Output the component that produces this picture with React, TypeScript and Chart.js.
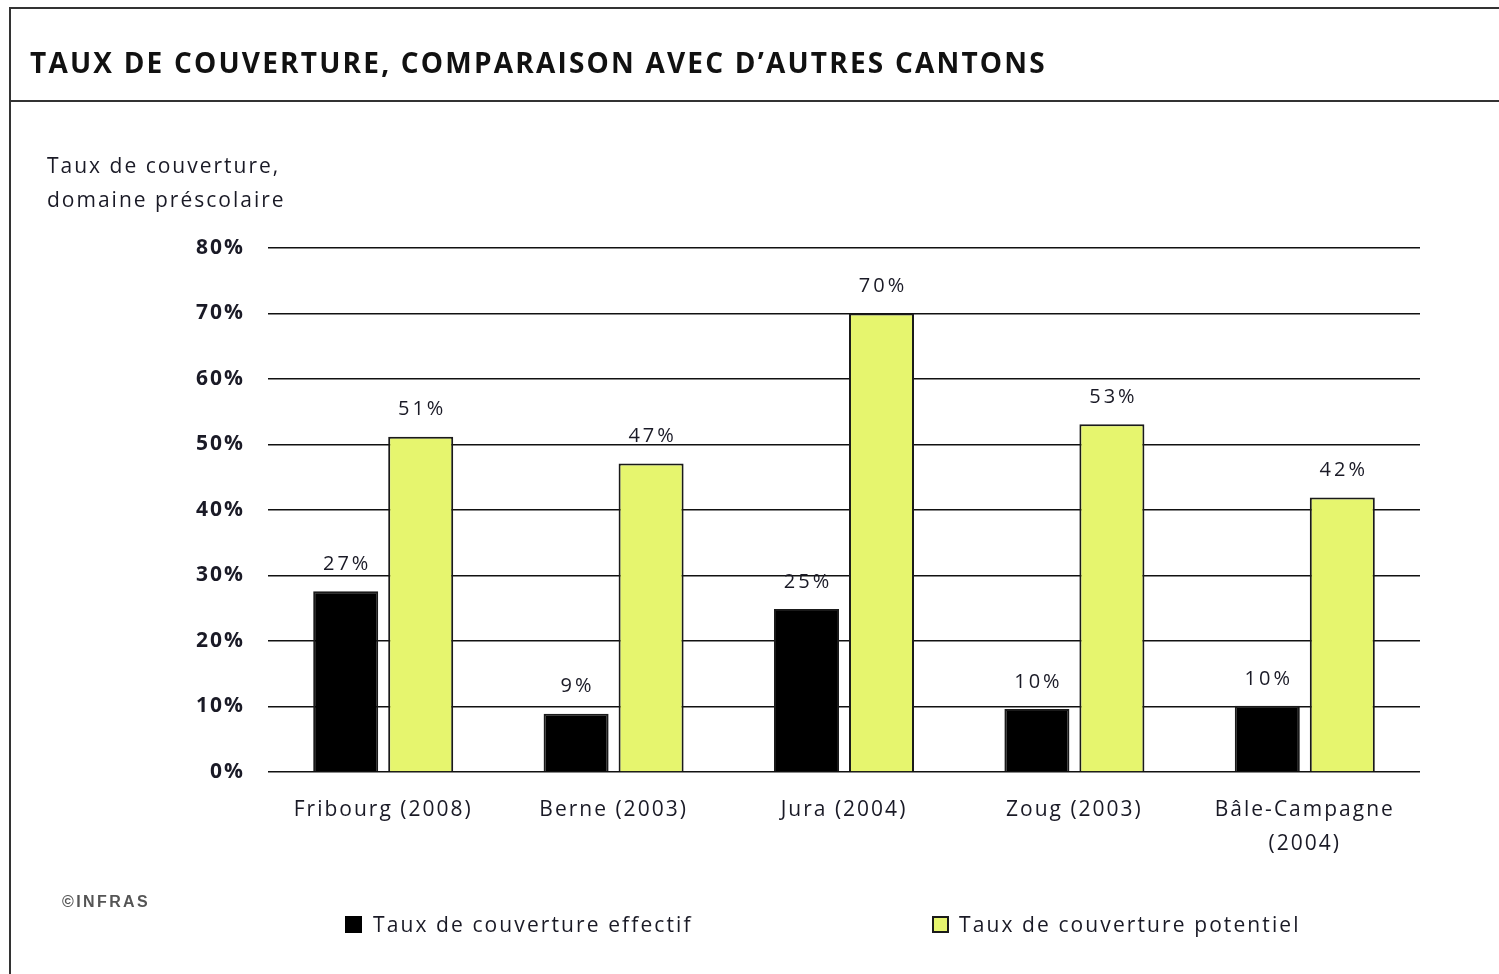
import React, { useEffect, useRef } from "react";
import { Chart, registerables } from "chart.js";

Chart.register(...registerables);

const categories: (string | string[])[] = [
  "Fribourg (2008)",
  "Berne (2003)",
  "Jura (2004)",
  "Zoug (2003)",
  ["Bâle-Campagne", "(2004)"],
];
const effectifValues = [27.6, 8.9, 24.9, 9.6, 10.1];
const effectifLabels = ["27%", "9%", "25%", "10%", "10%"];
const potentielValues = [51.2, 47.1, 70, 53.1, 41.9];
const potentielLabels = ["51%", "47%", "70%", "53%", "42%"];
const yTicks = [0, 10, 20, 30, 40, 50, 60, 70, 80];

const FONT = "'Open Sans', 'DejaVu Sans', sans-serif";
const TEXT = "#1a1a26";

export default function App() {
  const ref = useRef<HTMLCanvasElement | null>(null);

  useEffect(() => {
    if (!ref.current) return;
    const spacing = {
      id: "spacing",
      beforeInit(chart: any) {
        chart.ctx.letterSpacing = "2px";
      },
      beforeLayout(chart: any) {
        chart.ctx.letterSpacing = "2px";
      },
      beforeDraw(chart: any) {
        chart.ctx.letterSpacing = "2px";
      },
    };
    const valueLabels = {
      id: "valueLabels",
      afterDatasetsDraw(chart: any) {
        const ctx = chart.ctx;
        ctx.save();
        ctx.letterSpacing = "3px";
        ctx.font = `500 20px ${FONT}`;
        ctx.fillStyle = TEXT;
        ctx.textAlign = "center";
        ctx.textBaseline = "middle";
        const lists = [effectifLabels, potentielLabels];
        chart.data.datasets.forEach((_: any, di: number) => {
          const meta = chart.getDatasetMeta(di);
          meta.data.forEach((bar: any, i: number) => {
            ctx.fillText(lists[di][i], bar.x + 1.5, bar.y - 27);
          });
        });
        ctx.restore();
      },
    };
    const chart = new Chart(ref.current, {
      type: "bar",
      data: {
        labels: categories,
        datasets: [
          {
            label: "Taux de couverture effectif",
            data: effectifValues,
            backgroundColor: "#000000",
            borderColor: "#1a1a1a",
            borderWidth: 2,
            categoryPercentage: 0.651,
            barPercentage: 0.867,
          },
          {
            label: "Taux de couverture potentiel",
            data: potentielValues,
            backgroundColor: "#e6f56e",
            borderColor: "#1a1a1a",
            borderWidth: 2,
            categoryPercentage: 0.651,
            barPercentage: 0.867,
          },
        ],
      },
      options: {
        animation: false,
        responsive: false,
        maintainAspectRatio: false,
        layout: { padding: { left: 168, right: 79, top: 248, bottom: 0 } },
        plugins: {
          legend: { display: false },
          title: { display: false },
          tooltip: { enabled: false },
        },
        scales: {
          x: {
            grid: { display: false, drawTicks: false },
            border: { display: false },
            ticks: {
              color: TEXT,
              font: { family: FONT, size: 21, weight: "500", lineHeight: 1.62 },
              padding: 21,
              maxRotation: 0,
              autoSkip: false,
            },
            afterFit(scale: any) {
              scale.height = 202;
            },
          },
          y: {
            min: 0,
            max: 80,
            afterBuildTicks(scale: any) {
              scale.ticks = yTicks.map((v) => ({ value: v }));
            },
            grid: { color: "#111111", lineWidth: 1.5, drawTicks: false },
            border: { display: false },
            ticks: {
              color: TEXT,
              font: { family: FONT, size: 21, weight: "bold" },
              padding: 23,
              callback: (v: any) => `${v}%`,
            },
            afterFit(scale: any) {
              scale.width = 100;
            },
          },
        },
      },
      plugins: [spacing, valueLabels],
    } as any);
    return () => chart.destroy();
  }, []);

  const line = (style: React.CSSProperties) => (
    <div style={{ position: "absolute", background: "#333", ...style }} />
  );

  return (
    <div
      style={{
        position: "absolute",
        left: 0,
        top: 0,
        width: 1499,
        height: 974,
        overflow: "hidden",
        background: "#fff",
        fontFamily: FONT,
        color: TEXT,
      }}
    >
      <canvas
        ref={ref}
        width={1499}
        height={974}
        style={{ position: "absolute", left: 0, top: 0, width: 1499, height: 974 }}
      />
      {line({ left: 10, top: 7, width: 1489, height: 2 })}
      {line({ left: 9, top: 7, width: 2, height: 967 })}
      {line({ left: 10, top: 100, width: 1489, height: 2 })}
      <div
        style={{
          position: "absolute",
          left: 30,
          top: 42,
          fontSize: 28,
          fontWeight: 700,
          letterSpacing: 2.2,
          lineHeight: "40px",
          whiteSpace: "nowrap",
          color: "#111",
        }}
      >
        TAUX DE COUVERTURE, COMPARAISON AVEC D’AUTRES CANTONS
      </div>
      <div
        style={{
          position: "absolute",
          left: 47,
          top: 148,
          fontSize: 21,
          fontWeight: 500,
          letterSpacing: 2,
          lineHeight: "34px",
          whiteSpace: "nowrap",
        }}
      >
        Taux de couverture,
        <br />
        domaine préscolaire
      </div>
      <div
        style={{
          position: "absolute",
          left: 62,
          top: 893,
          fontSize: 16,
          fontWeight: 600,
          letterSpacing: 2.4,
          fontFamily: "'Liberation Sans', Arial, sans-serif",
          color: "#555",
          whiteSpace: "nowrap",
        }}
      >
        ©INFRAS
      </div>
      <div
        style={{
          position: "absolute",
          left: 345,
          top: 910,
          display: "flex",
          alignItems: "center",
          fontSize: 21,
          fontWeight: 500,
          letterSpacing: 2.1,
          whiteSpace: "nowrap",
        }}
      >
        <span style={{ width: 17, height: 17, background: "#000", marginRight: 11, display: "inline-block" }} />
        Taux de couverture effectif
      </div>
      <div
        style={{
          position: "absolute",
          left: 932,
          top: 910,
          display: "flex",
          alignItems: "center",
          fontSize: 21,
          fontWeight: 500,
          letterSpacing: 2.1,
          whiteSpace: "nowrap",
        }}
      >
        <span
          style={{
            width: 13,
            height: 13,
            background: "#e6f56e",
            border: "2px solid #1a1a1a",
            marginRight: 10,
            display: "inline-block",
          }}
        />
        Taux de couverture potentiel
      </div>
    </div>
  );
}
